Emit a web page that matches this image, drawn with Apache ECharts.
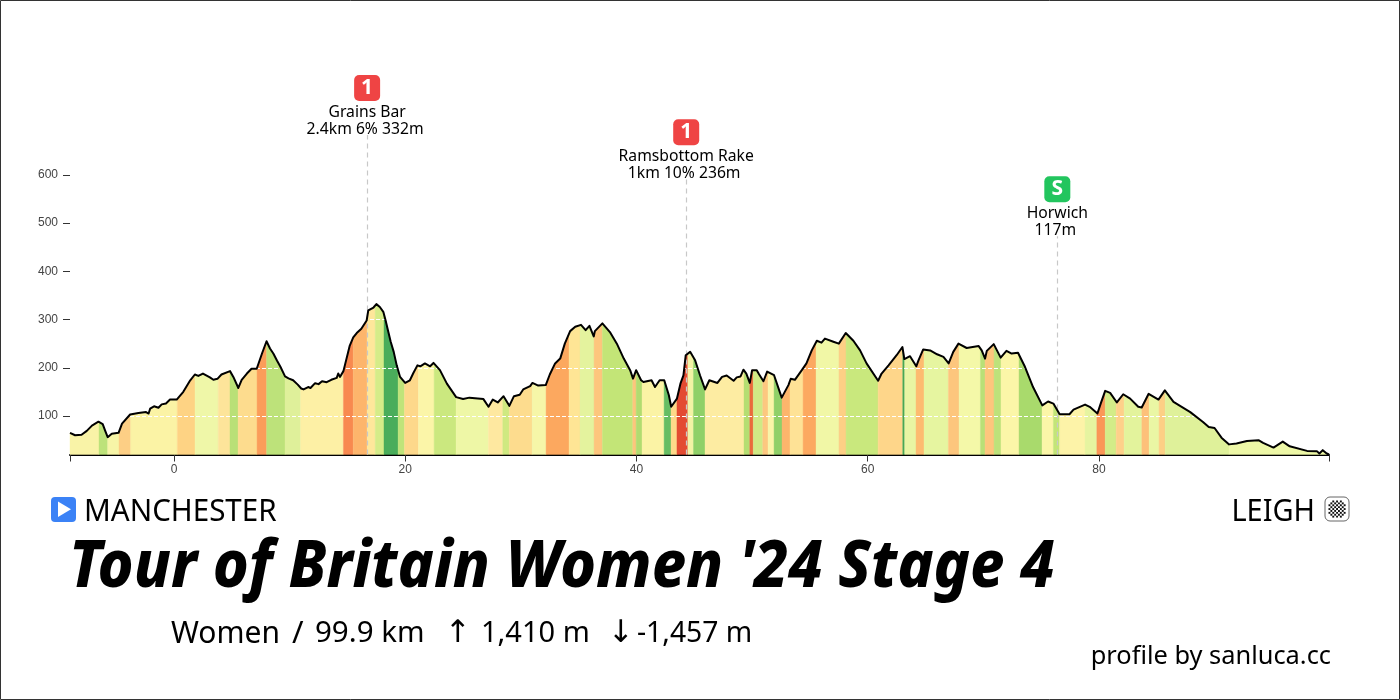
<!DOCTYPE html>
<html><head><meta charset="utf-8">
<style>html,body{margin:0;padding:0;background:#fff}#c{width:1400px;height:700px}</style>
<script src="https://cdn.jsdelivr.net/npm/echarts@6/dist/echarts.min.js"></script>
</head><body><div id="c"></div>
<script>
const kmPoints=[-9,-8.56,-8,-7.55,-7.1,-6.54,-6.17,-5.97,-5.74,-5.39,-4.8,-4.5,-3.8,-3.08,-2.42,-2.2,-2.07,-1.73,-1.35,-1.07,-0.7,-0.35,0.23,0.8,1.4,1.8,2.1,2.5,3.1,3.4,3.75,4.1,4.84,5.13,5.56,5.85,6.3,6.7,7.15,7.6,8,8.3,8.6,8.9,9.2,9.6,9.9,10.3,10.7,11,11.2,11.6,11.8,12.2,12.5,12.8,13.2,13.6,14.07,14.2,14.35,14.65,15.2,15.5,15.8,16.2,16.66,16.8,17.25,17.5,17.8,18.1,18.3,18.5,18.74,19,19.26,19.55,19.99,20.4,20.7,21.05,21.3,21.7,22.15,22.44,23,23.6,24.4,25,25.55,26.76,27.2,27.57,28,28.5,29,29.4,29.9,30.2,30.8,31,31.5,32.15,32.5,32.96,33.4,33.8,34.26,34.7,35.2,35.6,35.93,36.3,36.4,37.05,37.7,38.3,38.9,39.45,39.7,39.97,40.4,40.6,41.3,41.6,42,42.4,42.8,43,43.5,43.8,44.06,44.26,44.64,45.07,45.5,45.93,46.3,47,47.4,47.8,48.4,48.67,49,49.25,49.5,49.8,50,50.4,50.6,50.98,51.3,51.9,52.56,53.14,53.34,53.7,54.3,54.7,55.16,55.6,56,56.3,57.03,57.5,58.1,58.76,59.34,59.9,60.9,61.2,61.8,62.5,63,63.17,63.66,64.2,64.4,64.8,65.4,66,66.55,67,67.4,67.85,68.56,69.6,69.86,70.15,70.3,70.9,71.5,72,72.45,73,73.6,74.3,75.1,75.6,76.06,76.6,77.08,77.45,77.8,78.8,79.2,79.87,80.16,80.54,80.97,81.55,82.1,82.7,83.4,83.7,84.3,85.15,85.7,86.45,87.9,89,89.5,90,90.6,91.26,91.9,92.8,93.8,94.2,95.1,95.9,96.5,98,98.85,99.07,99.36,99.7,99.9];
const elevation=[65,60,61,69,80,88,83,70,56,63,65,84,103,106,108,105,115,120,117,124,126,134,134,150,174,186,183,188,180,175,177,186,193,181,158,175,188,198,198,229,255,240,229,215,202,182,178,174,165,157,155,160,158,168,166,172,170,175,179,188,181,193,246,263,272,281,298,319,325,332,326,316,298,278,254,233,205,181,168.5,174,189,205,203,209,203,210,195,167,139,135,138,135,119,134,128,141,121,141,144,155,162,168.5,163,164,186,209,219,250,276,285,289,278,287,265,276,292,274,250,219,195,177.5,195,174,170.5,174,160,174,174,143,119,136,167,184,226,233,215.5,184,155,174,168.5,181,184,173,180,182,196,188,168.5,195,195,186.5,172,192,184.5,138,164,177,175,195,209,236,256,252,260.5,254,250,272,256,236,209,173,188,205,226,243,218,224,203,216,238,236,228,222.5,209,233,250,241,245,236,219,235,249,221,235,229.4,231,202,160,122,130,125.7,103.6,103.6,103.6,113,123.6,119,105,126,152,148,128,145,136,119,117.4,146,134,153,129,108,87.6,77,75,55,41,42.7,48,49.6,44,34.4,46.8,37,27.5,27,22,29,22,20];
const bandEnds=[-6.49,-5.74,-4.76,-3.75,0.29,1.82,3.83,4.84,5.54,7.18,8.01,9.6,10.95,14.65,15.5,16.7,17.4,18.16,19.38,19.93,21.14,22.5,24.4,27.2,28.43,29,30.97,32.18,34.17,35.12,36.33,37.05,39.68,39.97,40.48,42.39,42.99,43.5,44.44,44.93,45.93,49.3,49.8,50.1,50.92,51.38,51.9,52.59,53.28,54.41,55.53,57.52,58.13,60.9,63.03,63.2,64.18,64.87,66.98,67.9,69.75,70.15,70.93,71.53,73.09,75.08,76.06,76.6,78.8,79.82,80.54,81.49,82.18,83.71,84.34,85.2,85.73,91.26,99.9];
const bandColors=['#f9f3a7','#bde27a','#f7f5a7','#fdcf85','#fbf3a5','#fed384','#eff7a8','#fde49a','#b9e077','#fddc8e','#fb9d5a','#bde27a','#dff09a','#fdf0a5','#f88950','#fdb56c','#fee79b','#d5ec88','#4aad5b','#bfe47a','#fdd88b','#fbf5a8','#cbe87f','#eef7a6','#fee8a0','#cfe981','#fddc8e','#f6f6a8','#fca85f','#fee595','#e4f39e','#fdc67d','#c3e577','#fdc67d','#b1dc70','#fbf3a5','#66bd63','#fed98a','#e34b32','#f3f3a5','#8fd068','#fdeca2','#b5de72','#ea6b3c','#d0ea85','#fdc880','#f9f5a8','#8fd068','#fdb56c','#fee296','#fca960','#f1f7a6','#fdcf85','#c9e87d','#fed68a','#4aa854','#e9f5a3','#fdbb70','#e6f5a0','#fdc67d','#f4f8a8','#b9e077','#fdc67d','#bde27a','#fbf6a8','#a9da6c','#fbf6a8','#c3e577','#fdf3a8','#e6f4a0','#fb9657','#d3ec88','#fed08a','#e3f39c','#fdc07a','#eaf6a4','#fdcf85','#dff19a','#edf7a6'];
const climbNames=['Grains Bar','Ramsbottom Rake','Horwich'];
const climbInfo=['2.4km 6% 332m ','1km 10% 236m ','117m '];
const climbBadges=['1','1','S'];
const climbKm=[16.7,44.3,76.4];
const climbTop=[683,591,473];
const yTicks=[100,200,300,400,500,600];
const xTickValues=[-9,0,20,40,60,80,99.9];
const xLabelValues=[0,20,40,60,80];
const yMin=20;

function elevAt(k){
  for(let i=1;i<kmPoints.length;i++){
    if(k<=kmPoints[i]){
      const t=(k-kmPoints[i-1])/(kmPoints[i]-kmPoints[i-1]);
      return elevation[i-1]+t*(elevation[i]-elevation[i-1]);
    }
  }
  return elevation[elevation.length-1];
}
const bandData=bandEnds.map((e,i)=>[i===0?kmPoints[0]:bandEnds[i-1],e,yMin]);
const FONT='"Noto Sans"';
const chart=echarts.init(document.getElementById('c'),null,{renderer:'canvas'});

const checker=[];
for(let r=0;r<9;r++)for(let c=0;c<9;c++){
  if((r+c)%2===0&&(Math.abs(r-4)+Math.abs(c-4)<=7)){
    checker.push({type:'rect',shape:{x:1328.5+c*1.9,y:500.5+r*1.9,width:1.9,height:1.9},style:{fill:'#111'},silent:true});
  }
}
function txt(x,y,text,size,extra,sx){
  const el={type:'text',x:x,y:y,silent:true,style:Object.assign({text:text,fill:'#000',font:size+'px '+FONT,textVerticalAlign:'middle'},extra||{})};
  if(sx)el.scaleX=sx;
  return el;
}

chart.setOption({
  animation:false,
  backgroundColor:'#fff',
  grid:{left:70,right:71,top:54.5,bottom:245.5,containLabel:false},
  xAxis:{type:'value',min:-9,max:99.9,splitLine:{show:false},
    axisLine:{show:true,onZero:false,lineStyle:{color:'#000',width:2}},
    axisTick:{show:true,length:7,customValues:xTickValues,lineStyle:{color:'#333',width:1}},
    axisLabel:{show:true,customValues:xLabelValues,color:'#444',fontFamily:'Liberation Sans',fontSize:12,margin:9}},
  yAxis:{type:'value',min:yMin,max:850,splitLine:{show:false},
    axisLine:{show:false,onZero:false},
    axisTick:{show:true,length:7,customValues:yTicks,lineStyle:{color:'#333',width:1}},
    axisLabel:{show:true,customValues:yTicks,color:'#444',fontFamily:'Liberation Sans',fontSize:12,margin:12}},
  series:[
    {type:'custom',z:2,silent:true,data:bandData,encode:{x:[0,1],y:2},
     renderItem:function(params,api){
       const s=api.value(0),e=api.value(1);
       const top=[[s,elevAt(s)]];
       kmPoints.forEach((k,i)=>{if(k>s&&k<e)top.push([k,elevation[i]]);});
       top.push([e,elevAt(e)]);
       const pts=top.map(p=>api.coord(p));
       pts.push(api.coord([e,yMin]));
       pts.push(api.coord([s,yMin]));
       const col=bandColors[params.dataIndex];
       return {type:'polygon',shape:{points:pts},style:{fill:col,stroke:col,lineWidth:0.4}};
     }},
    {type:'line',z:4,silent:true,data:yTicks.slice(0,3).map(v=>[-9,v]),symbol:'none',lineStyle:{width:0},
     markLine:{silent:true,symbol:'none',z:4,label:{show:false},lineStyle:{color:'#fff',type:[4,2],width:1.2},
       data:[{yAxis:100},{yAxis:200},{yAxis:300}]}},
    {type:'line',z:5,silent:true,data:climbKm.map((k,i)=>[k,climbTop[i]]),symbol:'none',lineStyle:{width:0},
     markLine:{silent:true,symbol:'none',z:5,label:{show:false},lineStyle:{color:'#c8c8c8',type:[5,4],width:1.2},
       data:climbKm.map((k,i)=>[{coord:[k,yMin]},{coord:[k,climbTop[i]]}])}},
    {type:'line',z:6,silent:true,data:kmPoints.map((k,i)=>[k,elevation[i]]),symbol:'none',showSymbol:false,clip:false,
     lineStyle:{color:'#000',width:2,join:'round'}},
    {type:'scatter',z:7,silent:true,symbolSize:1,clip:false,itemStyle:{opacity:0},
     data:climbKm.map((k,i)=>({value:[k,climbTop[i]]})),
     label:{show:true,opacity:1,position:'top',distance:-3.5,color:'#000',
       formatter:p=>{const i=p.dataIndex;return '{'+(climbBadges[i]==='S'?'s':'r')+'|'+climbBadges[i]+'}\n{gap|}\n{n|'+climbNames[i]+'}\n{n|'+climbInfo[i]+'}';},
       rich:{
         r:{backgroundColor:'#ef4444',color:'#fff',fontFamily:FONT,fontWeight:700,fontSize:21,width:26,height:26,lineHeight:26,align:'center',borderRadius:5},
         s:{backgroundColor:'#22c55e',color:'#fff',fontFamily:FONT,fontWeight:700,fontSize:21,width:26,height:26,lineHeight:26,align:'center',borderRadius:5},
         gap:{height:3,lineHeight:3,fontSize:1},
         n:{color:'#000',fontFamily:FONT,fontSize:15.7,lineHeight:17,align:'center'}
       }}}
  ],
  graphic:{elements:[
    {type:'rect',shape:{x:0.5,y:0.5,width:1399,height:699},style:{fill:'none',stroke:'#333',lineWidth:1},silent:true},
    {type:'rect',shape:{x:51,y:497,width:25,height:25,r:4},style:{fill:'#3b82f6'},silent:true},
    {type:'polygon',shape:{points:[[58,501.5],[58,517],[71,509.3]]},style:{fill:'#fff'},silent:true},
    txt(84,512,'MANCHESTER',30,{},0.985),
    txt(1315,512,'LEIGH',30,{textAlign:'right'},0.965),
    {type:'rect',shape:{x:1325,y:497,width:24,height:24,r:5},style:{fill:'#fff',stroke:'#666',lineWidth:1},silent:true},
    ...checker,
    txt(69,568,"Tour of Britain Women '24 Stage 4",66,{font:'italic 800 66px '+FONT},0.92),
    txt(171,634,'Women',30),
    txt(292,634,'/',31),
    txt(315,634,'99.9 km',29.5),
    txt(445,634,'\u2191',31,{font:'31px "DejaVu Sans"'}),
    txt(481,634,'1,410 m',29),
    txt(608,634,'\u2193',31,{font:'31px "DejaVu Sans"'}),
    txt(637,634,'-1,457 m',28.3),
    txt(1331,657,'profile by sanluca.cc',25.4,{textAlign:'right'})
  ]}
});
</script></body></html>
